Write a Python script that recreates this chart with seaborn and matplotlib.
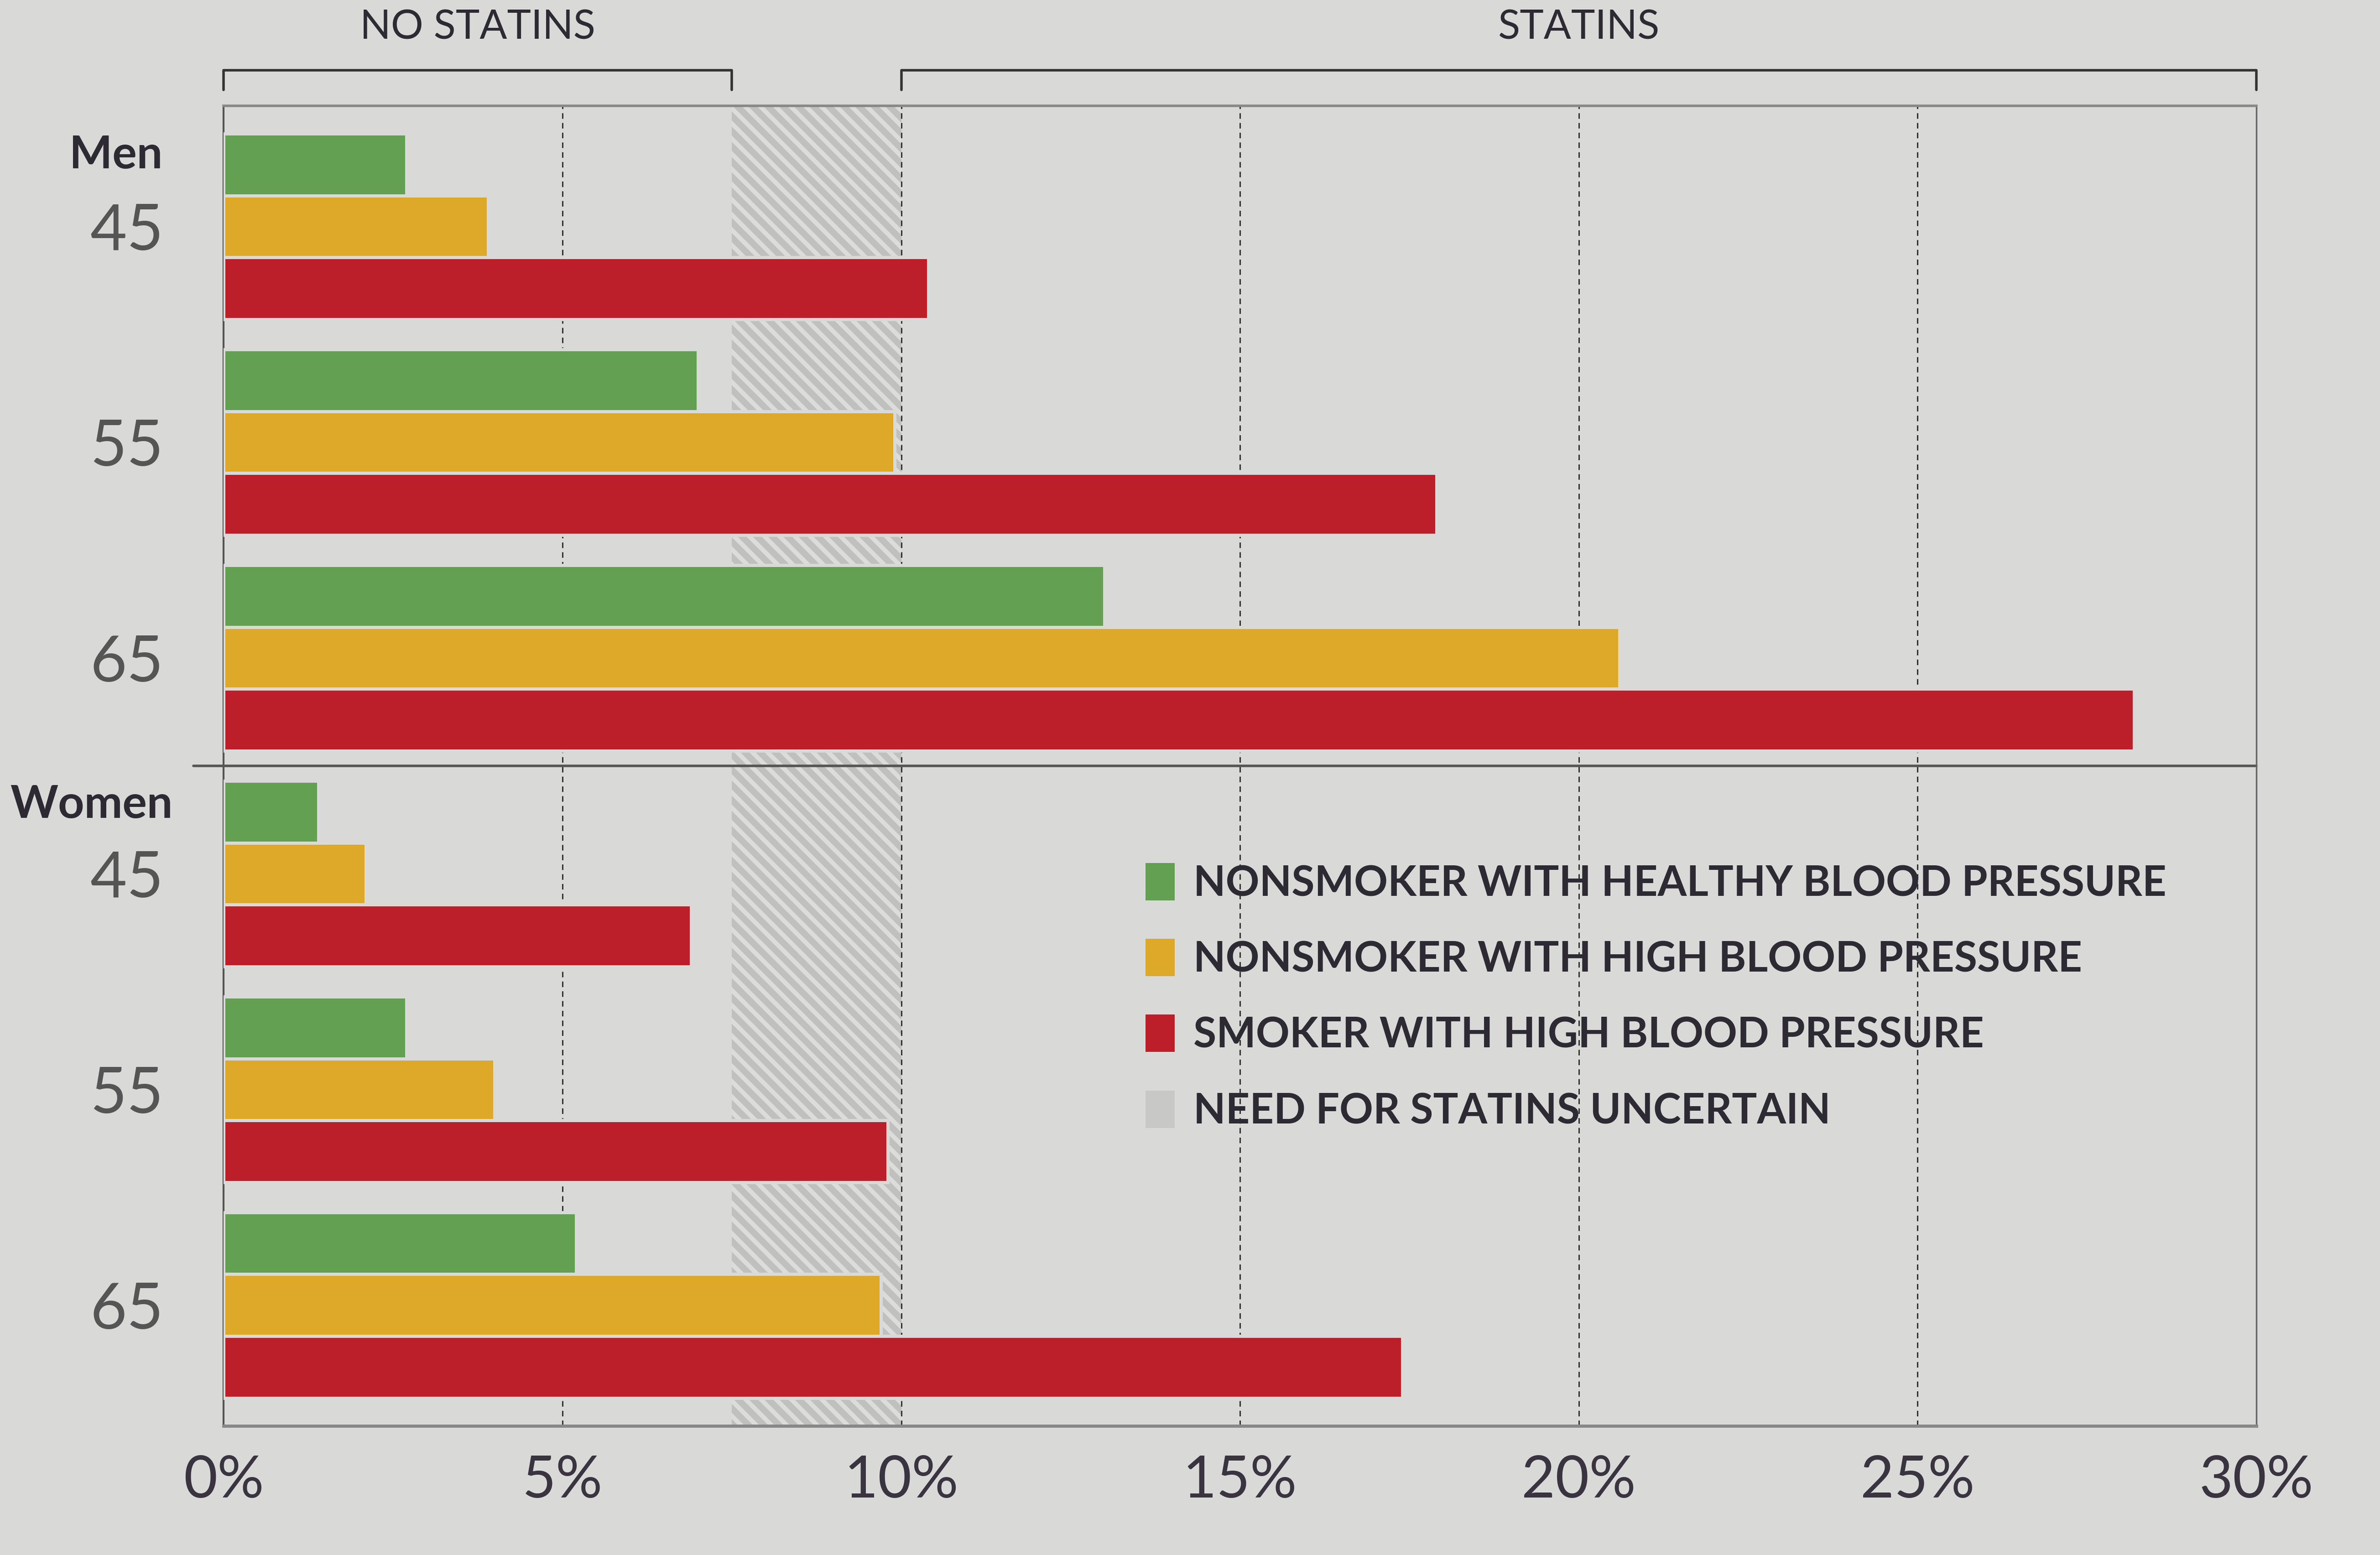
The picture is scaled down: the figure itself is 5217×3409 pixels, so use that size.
import matplotlib
matplotlib.use("Agg")
import matplotlib.pyplot as plt
import matplotlib.transforms as mtransforms
from matplotlib.patches import Patch
import seaborn as sns
import pandas as pd

# ---- data ----
groups = ["Men 45", "Men 55", "Men 65", "Women 45", "Women 55", "Women 65"]
age_labels = ["45", "55", "65", "45", "55", "65"]
series_names = ["NONSMOKER WITH HEALTHY BLOOD PRESSURE",
                "NONSMOKER WITH HIGH BLOOD PRESSURE",
                "SMOKER WITH HIGH BLOOD PRESSURE"]
healthy = [2.7, 7.0, 13.0, 1.4, 2.7, 5.2]
high_bp = [3.9, 9.9, 20.6, 2.1, 4.0, 9.7]
smoker = [10.4, 17.9, 28.2, 6.9, 9.8, 17.4]
x_ticks = [0, 5, 10, 15, 20, 25, 30]
uncertain_range = (7.5, 10)

bg = "#d9dad8"
colors = ["#63a052", "#dea828", "#bd1f2a"]

rows = []
for name, vals in zip(series_names, [healthy, high_bp, smoker]):
    for g, v in zip(groups, vals):
        rows.append({"group": g, "risk": v, "profile": name})
df = pd.DataFrame(rows)

sns.set_theme(style="white")
plt.rcParams["font.family"] = ["Lato", "DejaVu Sans"]
plt.rcParams["hatch.linewidth"] = 7

fig = plt.figure(figsize=(52.17, 34.09), dpi=100, facecolor=bg)
ax = fig.add_axes([0.094, 0.083, 0.854, 0.849])
ax.set_facecolor(bg)

# uncertain band
ax.axvspan(*uncertain_range, facecolor="#c0c1bf", edgecolor="#dcdddb",
           hatch="\\", linewidth=0, zorder=0)

sns.barplot(data=df, x="risk", y="group", hue="profile", orient="h",
            order=groups, hue_order=series_names, palette=colors,
            width=0.86, saturation=1, edgecolor=bg, linewidth=5,
            ax=ax, legend=False, zorder=3)

ax.set_xlim(0, 30)
ax.set_ylim(5.56, -0.56)

# grid lines
for xv in x_ticks[1:-1]:
    ax.axvline(xv, color="#333333", lw=2.2, ls=(0, (4, 3)), zorder=1)

# divider between men and women
ax.axhline(2.5, color="#555555", lw=4, zorder=2, xmin=-0.015, clip_on=False)

for side in ["left", "right", "top", "bottom"]:
    ax.spines[side].set_visible(True)
ax.spines["left"].set_color("#555555")
ax.spines["left"].set_linewidth(3)
ax.spines["right"].set_color("#666666")
ax.spines["right"].set_linewidth(2.5)
ax.spines["top"].set_color("#888888")
ax.spines["top"].set_linewidth(4)
ax.spines["bottom"].set_color("#888888")
ax.spines["bottom"].set_linewidth(5)

ax.set_xticks(x_ticks)
ax.set_xticklabels([f"{t}%" for t in x_ticks], fontsize=92, color="#3a3340")
ax.tick_params(axis="x", length=0, pad=45)
ax.set_yticks(range(len(groups)))
ax.set_yticklabels(age_labels, fontsize=100, color="#555555")
ax.tick_params(axis="y", length=0, pad=95)
for lbl in ax.get_yticklabels():
    lbl.set_y(lbl.get_position()[1])
ax.set_xlabel("")
ax.set_ylabel("")

# group headings
trans_y = mtransforms.blended_transform_factory(ax.transAxes, ax.transData)
ax.text(-0.03, -0.33, "Men", transform=trans_y, ha="right", va="center",
        fontsize=72, fontweight="bold", color="#2e2a33")
ax.text(-0.025, 2.68, "Women", transform=trans_y, ha="right", va="center",
        fontsize=72, fontweight="bold", color="#2e2a33")

# top brackets
trans_x = mtransforms.blended_transform_factory(ax.transData, ax.transAxes)
def bracket(x0, x1, label):
    ax.plot([x0, x0, x1, x1], [1.012, 1.027, 1.027, 1.012], transform=trans_x,
            color="#333333", lw=4, clip_on=False)
    ax.text((x0 + x1) / 2, 1.045, label, transform=trans_x, ha="center",
            va="bottom", fontsize=64, color="#2e2a33")
bracket(0, uncertain_range[0], "NO STATINS")
bracket(uncertain_range[1], 30, "STATINS")

# legend
handles = [Patch(facecolor=c, edgecolor="none") for c in colors]
handles.append(Patch(facecolor="#c8c9c7", edgecolor="none"))
labels = series_names + ["NEED FOR STATINS UNCERTAIN"]
leg = ax.legend(handles, labels, loc="upper left", bbox_to_anchor=(0.435, 0.455),
                frameon=False, fontsize=66, handlelength=0.7, handleheight=1.0,
                handletextpad=0.45, labelspacing=0.85)
for t in leg.get_texts():
    t.set_fontweight("bold")
    t.set_color("#2e2a33")

fig.savefig("out.png", dpi=100, facecolor=bg)
